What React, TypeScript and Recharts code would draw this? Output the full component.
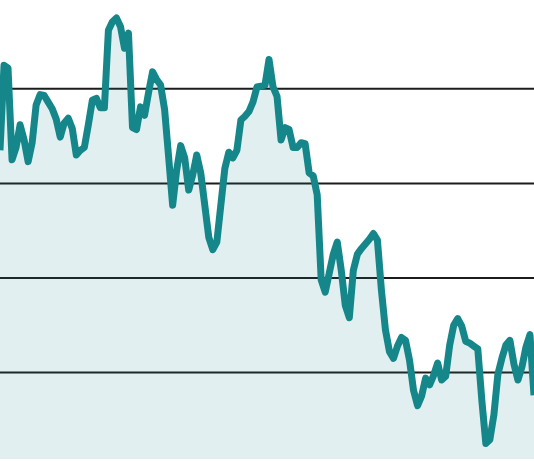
import { Area, AreaChart, CartesianGrid, XAxis, YAxis } from "recharts";

// closing level, one reading per trading day
const closes = [
  33.5, 42.5, 42.2, 32.5, 33.8, 36.2, 34.6, 32.3, 34.3, 38.3,
  39.4, 39.3, 38.6, 37.9, 36.8, 34.9, 36.4, 36.9, 35.8, 33.0,
  33.5, 33.8, 36.2, 38.8, 39.0, 38.0, 38.0, 46.2, 47.1, 47.5,
  46.6, 44.3, 45.9, 35.9, 35.7, 38.1, 37.2, 39.6, 41.8, 41.0,
  40.4, 37.8, 32.8, 27.7, 31.4, 34.0, 32.7, 29.3, 30.9, 33.0,
  31.1, 27.7, 24.3, 23.0, 23.8, 27.7, 31.6, 33.3, 32.7, 33.5,
  36.7, 37.1, 37.6, 38.6, 40.2, 40.3, 40.4, 43.1, 40.2, 39.2,
  34.6, 35.9, 35.7, 33.8, 33.8, 34.3, 34.2, 31.1, 30.8, 28.8,
  19.8, 18.5, 20.5, 22.5, 23.8, 20.8, 17.1, 15.8, 20.8, 22.5,
  23.1, 23.6, 24.1, 24.7, 24.0, 18.7, 14.5, 12.2, 11.5, 12.8,
  13.7, 13.4, 11.3, 8.1, 6.5, 7.5, 9.4, 8.7, 9.7, 11.0,
  9.2, 9.6, 12.9, 15.0, 15.7, 14.9, 13.3, 13.1, 12.8, 12.5,
  7.1, 2.5, 2.9, 5.5, 9.8, 11.5, 12.9, 13.4, 10.9, 9.2,
  10.6, 12.7, 14.0, 7.6,
];
const days = closes.map((_, i) => i);
const gridTicks = [10, 20, 30, 40];

const data = days.map((day, i) => ({ day, close: closes[i] }));

export default function App() {
  return (
    <div style={{ position: "absolute", left: 0, top: 0, width: 534, height: 462, background: "#fff" }}>
      <AreaChart width={534} height={459} data={data} margin={{ top: 0, right: 0, left: 0, bottom: 0 }}>
        <CartesianGrid vertical={false} horizontalValues={gridTicks} stroke="#1c1c1c" strokeWidth={2} />
        <XAxis dataKey="day" hide />
        <YAxis hide domain={[0.85, 49.4]} ticks={gridTicks} allowDataOverflow />
        <Area
          type="linear"
          dataKey="close"
          stroke="#15878a"
          strokeWidth={7}
          strokeLinejoin="round"
          fill="#15878a"
          fillOpacity={0.13}
          isAnimationActive={false}
          dot={false}
          activeDot={false}
        />
      </AreaChart>
    </div>
  );
}
